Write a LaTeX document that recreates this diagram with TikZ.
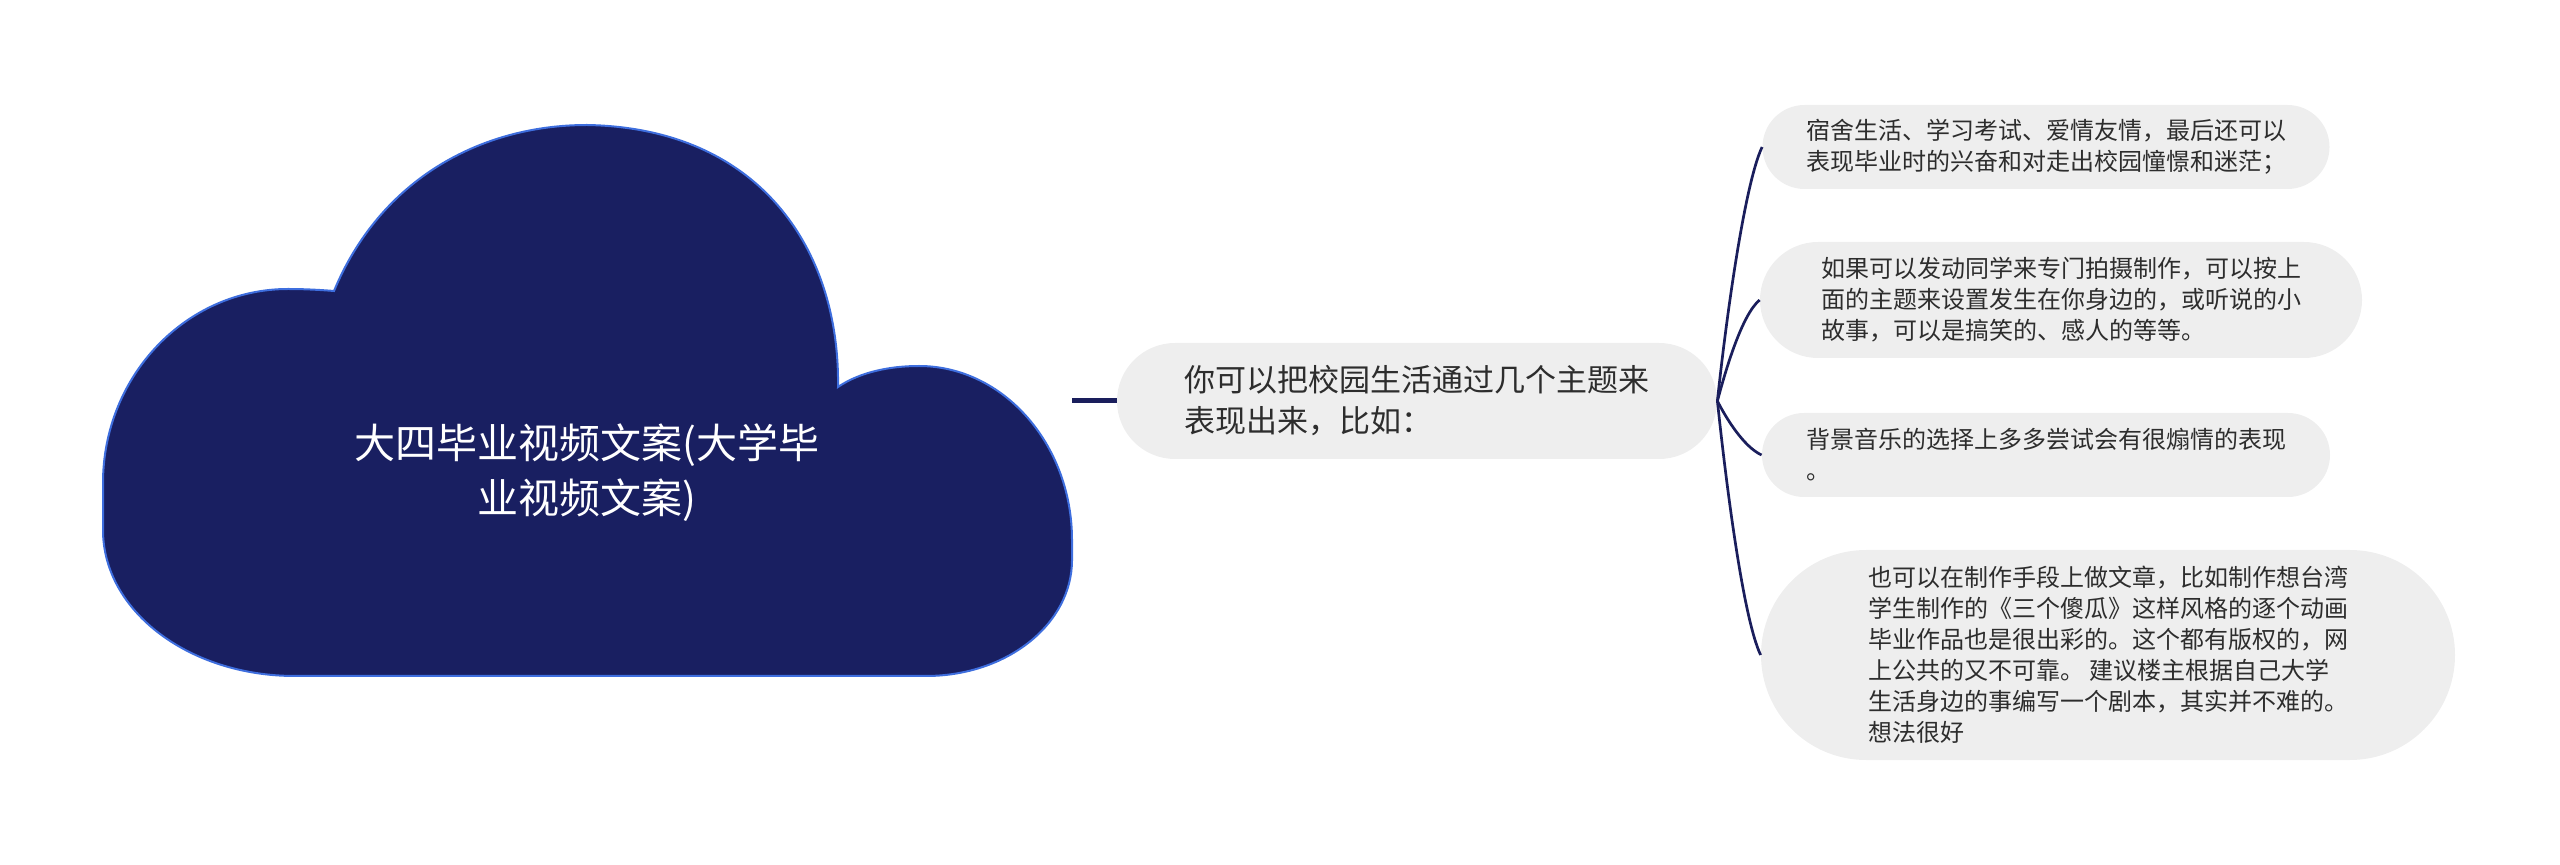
\documentclass[tikz,border=0pt]{standalone}
\usepackage{fontspec}
\usepackage{tikz}
\usetikzlibrary{shapes.misc}
\newfontfamily\cjk{Noto Sans CJK SC}
\definecolor{cloudblue}{RGB}{25,31,97}
\definecolor{cloudrim}{RGB}{62,110,222}
\definecolor{linkblue}{RGB}{26,30,92}
\definecolor{pillgray}{RGB}{238,238,238}
\definecolor{inkgray}{RGB}{45,45,45}

\begin{document}
\begin{tikzpicture}[x=0.5pt,y=-0.5pt,
    pill/.style={rounded rectangle,fill=pillgray,text=inkgray,inner xsep=0pt,inner ysep=2pt,align=left},
    topic/.style={pill,font=\cjk\fontsize{15.5pt}{20.5pt}\selectfont},
    leaf/.style={pill,font=\cjk\fontsize{12pt}{15.5pt}\selectfont},
    title/.style={align=center,text=white,font=\cjk\fontsize{20.5pt}{27.5pt}\selectfont},
    link/.style={draw=linkblue,line width=1.35pt}]
  \useasboundingbox (0,0) rectangle (2560,865);

  % cloud
  \filldraw[fill=cloudblue,draw=cloudrim,line width=1pt]
    (334,291) .. controls (380,180) and (480,125) .. (587,125)
    .. controls (760,128) and (840,250) .. (838,387)
    .. controls (860,372) and (890,366) .. (919,366)
    .. controls (1003,366) and (1072,444) .. (1072,540)
    -- (1072,560)
    .. controls (1072,624) and (1007,676) .. (926,676)
    -- (295,676)
    .. controls (189,676) and (103,611) .. (103,530)
    -- (103,483)
    .. controls (103,376) and (186,289) .. (288,289)
    .. controls (305,289) and (322,290) .. (334,291) -- cycle;
  \node[title] (root) at (587,473) {大四毕业视频文案(大学毕\\业视频文案)};

  \node[topic,minimum width=300pt,minimum height=58pt] (topic) at (1417,401)
    {你可以把校园生活通过几个主题来\\表现出来，比如：};

  \node[leaf,minimum width=283.5pt,minimum height=42pt] (n1) at (2046,147)
    {宿舍生活、学习考试、爱情友情，最后还可以\\表现毕业时的兴奋和对走出校园憧憬和迷茫；};
  \node[leaf,minimum width=301pt,minimum height=58pt] (n2) at (2061,300)
    {如果可以发动同学来专门拍摄制作，可以按上\\面的主题来设置发生在你身边的，或听说的小\\故事，可以是搞笑的、感人的等等。};
  \node[leaf,minimum width=284pt,minimum height=42pt] (n3) at (2046,455)
    {背景音乐的选择上多多尝试会有很煽情的表现\\。};
  \node[leaf,minimum width=347pt,minimum height=105pt] (n4) at (2108,655)
    {也可以在制作手段上做文章，比如制作想台湾\\学生制作的《三个傻瓜》这样风格的逐个动画\\毕业作品也是很出彩的。这个都有版权的，网\\上公共的又不可靠。 建议楼主根据自己大学\\生活身边的事编写一个剧本，其实并不难的。\\想法很好};

  \coordinate (tip) at (1072,401);
  \draw[draw=linkblue,line width=2.5pt] (tip) -- (topic.west);

  \draw[link] (topic.east) .. controls +(8,-76) and +(-18,38) .. (n1.west);
  \draw[link] (topic.east) .. controls +(8,-30) and +(-18,15) .. (n2.west);
  \draw[link] (topic.east) .. controls +(8,16) and +(-18,-8) .. (n3.west);
  \draw[link] (topic.east) .. controls +(8,76) and +(-18,-38) .. (n4.west);
\end{tikzpicture}
\end{document}
